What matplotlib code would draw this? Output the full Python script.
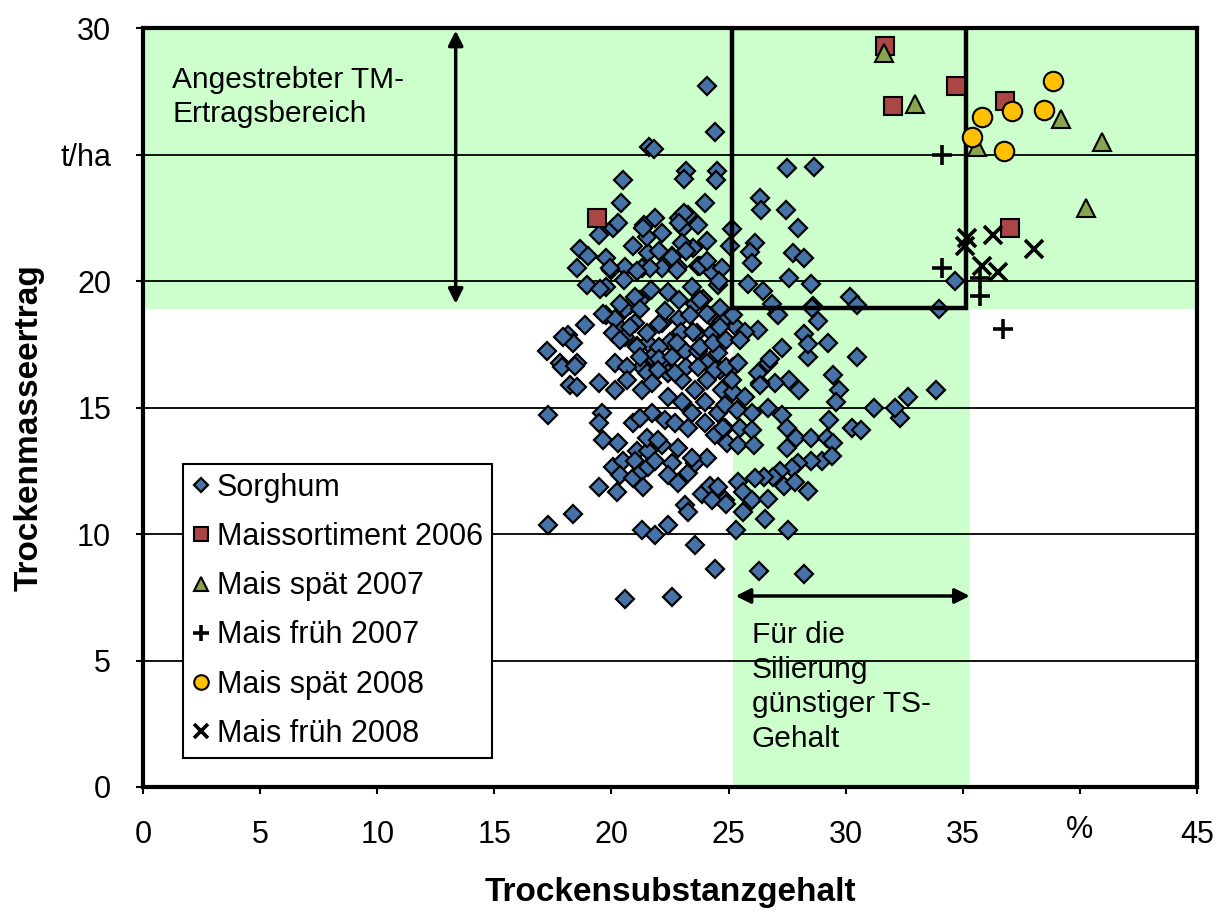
import matplotlib
matplotlib.use("Agg")
import matplotlib.pyplot as plt
from matplotlib.patches import Rectangle
from matplotlib.transforms import ScaledTranslation

plt.rcParams['font.family'] = ['Liberation Sans', 'DejaVu Sans']

# ---------------- data ----------------
sorghum_x = [24.1, 24.4, 21.6, 21.8, 20.5, 20.4, 23.2, 23.1, 24.5, 24.45, 24.0, 26.35, 26.4, 27.5, 28.65,
             27.45, 27.95, 27.75, 28.2, 27.6, 28.5, 34.65, 30.2, 30.5, 34.0, 28.6, 28.8, 26.45, 27.05, 26.25,
             28.2, 29.25, 28.4, 30.5, 27.3, 26.7, 29.45, 27.6, 28.0, 27.0, 26.35, 29.7, 29.6, 33.85, 32.65,
             32.3, 32.1, 31.2, 29.3, 30.25, 30.65,
             25.15, 25.05, 26.15, 25.9, 26.0, 25.85, 26.85, 27.1, 28.55, 25.3, 25.7, 28.4, 26.75,
             20.05, 20.3, 19.45, 18.65, 19.0, 18.55, 18.95, 19.75, 20.0, 19.75, 20.6, 20.55, 20.9, 21.4,
             21.85, 22.15, 21.55, 21.5, 22.6, 22.15, 21.3, 22.9, 23.25, 23.05, 23.7, 24.1, 23.5, 23.0,
             22.85, 23.7, 24.3, 24.7, 24.55, 23.45, 22.4, 21.7, 21.2, 20.8, 19.75, 18.85, 18.15, 18.35,
             17.25, 17.8, 18.55, 20.15, 20.6, 20.45, 21.0, 20.05, 20.6, 21.1, 21.55, 22.15, 22.3, 22.9,
             23.55, 23.9, 24.2, 22.95, 22.5, 23.65, 24.3, 24.7, 23.15, 23.7, 24.55, 21.75, 22.15, 21.3, 20.15,
             22.05, 22.6, 23.2, 23.8, 24.1, 24.6, 22.8, 21.65, 21.1, 19.95, 19.5, 21.0, 20.35, 21.2, 22.9,
             23.8, 23.35, 24.1, 24.65, 25.2, 24.65, 23.5, 22.05, 21.5, 20.8, 20.35, 21.1, 22.05, 22.8, 23.8,
             24.35, 24.9, 25.5, 21.2, 22.05, 22.6, 23.2, 24.1, 24.65, 25.2, 21.5, 22.4, 20.65, 17.95, 19.65,
             21.35, 23.1, 22.9,
             17.9, 18.45, 18.25, 18.55, 19.45, 20.15, 17.3, 19.6, 19.45, 20.9, 19.65, 20.3, 21.1, 21.55,
             22.15, 20.05, 20.5, 20.35, 21.0, 20.9, 21.3, 21.55, 21.85, 22.6, 22.4, 22.85, 23.25, 23.55,
             24.1, 21.35, 20.25, 19.45, 23.15, 23.25, 23.85, 24.2, 24.55, 24.85, 18.35, 17.3, 21.3, 22.4,
             21.85, 22.4, 23.0, 23.55, 24.1, 24.7, 21.75, 22.3, 22.7, 23.25, 23.45, 24.0, 24.4, 24.85, 22.85,
             21.5, 22.0, 23.45, 20.65, 21.3, 21.75, 22.0, 22.7, 23.7, 24.4, 21.2, 23.0, 24.0, 24.55, 24.95,
             24.3,
             26.25, 26.35, 25.2, 25.7, 26.7, 27.3, 26.0, 25.5, 26.0, 27.5, 27.9, 28.5, 29.2, 29.45, 27.5,
             25.4, 26.1, 29.0, 29.4, 28.5, 27.95, 27.7, 27.2, 26.9, 26.5, 26.15, 27.35, 27.85, 28.4, 25.4,
             25.6, 26.0, 26.7, 24.9, 25.6, 26.55, 25.3, 27.55, 24.9, 25.4, 25.15, 24.85, 25.35, 24.75,
             24.4, 26.3, 28.2, 20.6, 22.6, 23.55]
sorghum_y = [27.7, 25.9, 25.3, 25.2, 24.0, 23.1, 24.35, 24.05, 24.35, 24.0, 23.1, 23.3, 22.8, 24.45, 24.5,
             22.8, 22.1, 21.1, 20.9, 20.1, 19.9, 20.0, 19.35, 19.05, 18.9, 19.0, 18.4, 19.6, 18.7, 18.05,
             17.9, 17.55, 17.0, 17.0, 17.35, 16.75, 16.3, 16.1, 15.7, 15.95, 15.95, 15.7, 15.2, 15.7, 15.4,
             14.6, 15.0, 15.0, 14.5, 14.2, 14.1,
             22.05, 21.4, 21.5, 21.15, 20.7, 19.9, 19.1, 18.65, 18.95, 18.2, 18.0, 17.5, 16.9,
             22.1, 22.3, 21.8, 21.25, 21.0, 20.5, 19.85, 20.9, 20.45, 19.75, 20.55, 20.05, 21.4, 22.2,
             22.5, 21.9, 21.1, 21.75, 21.0, 20.5, 20.5, 22.5, 22.6, 22.1, 22.2, 21.6, 21.3, 21.5,
             20.55, 20.6, 20.35, 20.5, 19.85, 19.75, 19.55, 19.65, 19.25, 19.05, 18.65, 18.25, 17.85, 17.55,
             17.25, 16.75, 16.75, 18.5, 18.9, 18.05, 18.35, 17.95, 17.8, 17.45, 17.55, 18.35, 18.8, 18.5,
             19.1, 19.3, 18.6, 18.0, 17.6, 17.95, 17.95, 18.4, 17.25, 17.25, 17.15, 17.0, 16.75, 16.6, 16.75,
             21.2, 20.95, 21.2, 20.6, 20.8, 20.0, 20.45, 20.5, 20.4, 20.5, 19.7, 19.35, 19.1, 18.9, 19.25,
             19.25, 18.65, 18.7, 18.95, 18.65, 18.2, 18.0, 18.3, 17.95, 18.2, 17.65, 17.4, 17.4, 17.55, 17.4,
             17.55, 17.65, 17.65, 17.0, 16.9, 17.0, 16.6, 16.75, 16.5, 16.6, 16.35, 16.35, 16.6, 17.8, 18.7,
             22.1, 22.7, 22.3,
             16.6, 16.65, 15.9, 15.8, 15.95, 15.7, 14.7, 14.8, 14.4, 14.4, 13.7, 13.6, 13.3, 13.3,
             13.5, 12.65, 12.9, 12.35, 12.9, 12.2, 12.5, 12.65, 12.9, 12.8, 12.35, 12.0, 12.4, 12.8,
             13.0, 11.85, 11.65, 11.85, 11.15, 10.85, 11.6, 11.9, 11.85, 11.35, 10.8, 10.35, 10.15, 10.35,
             9.95, 15.4, 16.1, 15.7, 16.1, 15.7, 14.8, 14.5, 14.4, 14.2, 14.8, 14.4, 13.9, 14.2, 13.4,
             13.8, 13.7, 13.0, 16.1, 15.7, 15.95, 16.5, 16.35, 16.6, 16.5, 14.6, 15.2, 15.2, 14.8, 13.6,
             11.35,
             16.35, 15.9, 15.6, 15.4, 15.0, 14.7, 14.8, 14.2, 14.1, 14.2, 13.8, 13.8, 13.8, 13.6, 13.4,
             13.5, 13.5, 12.9, 13.1, 12.9, 12.8, 12.6, 12.5, 12.25, 12.25, 12.2, 11.9, 12.05, 11.7, 12.05,
             11.65, 11.35, 11.4, 11.2, 10.85, 10.6, 10.15, 10.15, 16.6, 16.75, 16.1, 15.1, 14.9, 14.2,
             8.6, 8.55, 8.4, 7.45, 7.5, 9.55]

mais2006_x = [31.7, 34.7, 32.0, 36.8, 37.0, 19.4]
mais2006_y = [29.3, 27.7, 26.9, 27.1, 22.1, 22.5]

spaet2007_x = [31.65, 32.95, 35.6, 39.2, 40.95, 40.25]
spaet2007_y = [29.0, 27.0, 25.3, 26.4, 25.5, 22.9]

frueh2007_x = [34.1, 34.1, 35.75, 35.75, 36.7]
frueh2007_y = [25.0, 20.5, 20.1, 19.4, 18.1]

spaet2008_x = [38.85, 35.8, 37.1, 38.45, 35.4, 36.75]
spaet2008_y = [27.9, 26.5, 26.7, 26.75, 25.7, 25.15]

frueh2008_x = [35.2, 36.3, 35.1, 35.8, 36.5, 38.05]
frueh2008_y = [21.7, 21.8, 21.4, 20.6, 20.35, 21.25]

y_ticks = [0, 5, 10, 15, 20, 25, 30]
y_ticklabels = ['0', '5', '10', '15', '20', 't/ha', '30']
x_ticks = [0, 5, 10, 15, 20, 25, 30, 35, 40, 45]
x_ticklabels = ['0', '5', '10', '15', '20', '25', '30', '35', '%', '45']

# ---------------- figure ----------------
fig = plt.figure(figsize=(12.22, 9.16), dpi=100)
ax = fig.add_axes([143/1222, 1-787/916, (1197-143)/1222, (787-28)/916])
ax.set_xlim(0, 45)
ax.set_ylim(0, 30)

green = '#CCFFCC'
ax.add_patch(Rectangle((0, 18.9), 45, 11.1, facecolor=green, edgecolor='none', zorder=0))
ax.add_patch(Rectangle((25.2, 0), 10.1, 30, facecolor=green, edgecolor='none', zorder=0))

for yv in y_ticks[1:]:
    ax.axhline(yv, color='black', lw=1.3, zorder=1)

mk = dict(linestyle='none', markeredgecolor='black')
ax.plot(sorghum_x, sorghum_y, marker='D', markersize=9.3, markerfacecolor='#4572A7',
        markeredgewidth=1.6, label='Sorghum', zorder=3, **mk)

ax.add_patch(Rectangle((25.15, 18.93), 9.99, 11.07, facecolor='none', edgecolor='black',
                       lw=3.2, zorder=4))

ax.plot(mais2006_x, mais2006_y, marker='s', markersize=13, markerfacecolor='#AA4643',
        markeredgewidth=1.5, label='Maissortiment 2006', zorder=5, **mk)
ax.plot(spaet2007_x, spaet2007_y, marker='^', markersize=13, markerfacecolor='#89A54E',
        markeredgewidth=1.5, label='Mais spät 2007', zorder=5, **mk)
ax.plot(frueh2007_x, frueh2007_y, marker='+', markersize=15, markeredgewidth=2.6,
        color='black', label='Mais früh 2007', zorder=5, linestyle='none')
ax.plot(spaet2008_x, spaet2008_y, marker='o', markersize=14, markerfacecolor='#FFC000',
        markeredgewidth=1.5, label='Mais spät 2008', zorder=5, **mk)
ax.plot(frueh2008_x, frueh2008_y, marker='x', markersize=13, markeredgewidth=2.6,
        color='black', label='Mais früh 2008', zorder=5, linestyle='none')

# arrows
ax.annotate('', xy=(13.35, 29.9), xytext=(13.35, 19.1),
            arrowprops=dict(arrowstyle='<|-|>', color='black', lw=2.5, mutation_scale=22,
                            shrinkA=0, shrinkB=0), zorder=6)
ax.annotate('', xy=(25.3, 7.55), xytext=(35.3, 7.55),
            arrowprops=dict(arrowstyle='<|-|>', color='black', lw=2.5, mutation_scale=22,
                            shrinkA=0, shrinkB=0), zorder=6)

ax.text(1.25, 28.5, 'Angestrebter TM-\nErtragsbereich', fontsize=21.5, va='top', ha='left',
        linespacing=1.27, zorder=6)
ax.text(26.0, 6.55, 'Für die\nSilierung\ngünstiger TS-\nGehalt', fontsize=21.5, va='top', ha='left',
        linespacing=1.3, zorder=6)

ax.set_yticks(y_ticks)
ax.set_yticklabels(y_ticklabels)
ax.set_xticks(x_ticks)
ax.set_xticklabels(x_ticklabels)
ax.tick_params(axis='both', labelsize=22, direction='out', length=5, width=1.5)
ax.tick_params(axis='x', pad=19)
ax.tick_params(axis='y', pad=18)

for sp in ax.spines.values():
    sp.set_linewidth(3)
    sp.set_zorder(7)

ax.set_xlabel('Trockensubstanzgehalt', fontsize=24, fontweight='bold')
ax.set_ylabel('Trockenmasseertrag', fontsize=24, fontweight='bold')
ax.xaxis.set_label_coords(0.5, -0.118)
ax.yaxis.set_label_coords(-0.093, 0.474)

leg = ax.legend(loc='lower left', bbox_to_anchor=(0.038, 0.038), fontsize=22, frameon=True,
                fancybox=False, edgecolor='black', framealpha=1, markerscale=0.75,
                handlelength=0.55, handletextpad=0.25, borderpad=0.3, labelspacing=0.63,
                borderaxespad=0)
leg.get_frame().set_linewidth(1.5)
leg.set_zorder(8)

# the "%" label sits slightly higher than the numbers
pct = ax.get_xticklabels()[8]
pct.set_transform(pct.get_transform() + ScaledTranslation(0, 5/100, fig.dpi_scale_trans))

fig.savefig('out.png', dpi=100)
